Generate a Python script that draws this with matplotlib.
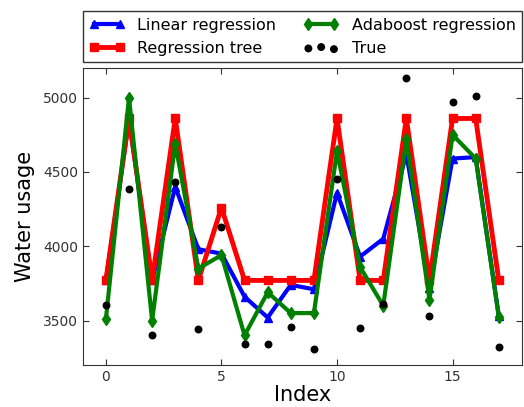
import matplotlib
matplotlib.use("Agg")
import matplotlib.pyplot as plt
import numpy as np

index = np.arange(18)
linear = [3770, 4850, 3770, 4400, 3980, 3950, 3660, 3520, 3740, 3710,
          4360, 3930, 4050, 4620, 3720, 4590, 4600, 3530]
tree = [3770, 4860, 3770, 4860, 3770, 4260, 3770, 3770, 3770, 3770,
        4860, 3770, 3770, 4860, 3770, 4860, 4860, 3770]
adaboost = [3510, 5000, 3500, 4690, 3850, 3940, 3400, 3690, 3550, 3550,
            4640, 3860, 3600, 4720, 3640, 4750, 4590, 3525]
true_vals = [3605, 4385, 3405, 4435, 3445, 4130, 3345, 3345, 3455, 3305,
             4450, 3450, 3610, 5135, 3530, 4970, 5010, 3325]

fig = plt.figure(figsize=(5.24, 4.07), dpi=100)
ax = fig.add_axes([0.158, 0.103, 0.838, 0.730])

ax.plot(index, linear, 'b^-', lw=3, ms=6, mec='b', label='Linear regression')
ax.plot(index, tree, 'rs-', lw=3.5, ms=6, mec='r', label='Regression tree')
ax.plot(index, adaboost, 'gd-', lw=3, ms=6, color='green', mec='green',
        label='Adaboost regression')
ax.scatter(index, true_vals, c='k', s=22, zorder=5, label='True')

ax.set_xlim(-1, 18)
ax.set_ylim(3200, 5200)
ax.set_xticks([0, 5, 10, 15])
ax.set_yticks([3500, 4000, 4500, 5000])
ax.tick_params(direction='in', top=True, right=True, labelsize=10,
               colors='#333333', length=4)
ax.set_xlabel('Index', fontsize=15, labelpad=1)
ax.set_ylabel('Water usage', fontsize=15, labelpad=6)
for s in ax.spines.values():
    s.set_color('#333333')

ax.legend(bbox_to_anchor=(0., 1.02, 1., .102), loc='lower left', ncol=2,
          mode='expand', borderaxespad=0., fontsize=11.5, fancybox=False,
          edgecolor='#333333', framealpha=1, handlelength=2.2,
          scatterpoints=3, numpoints=2)

fig.savefig('out.png', dpi=100)
